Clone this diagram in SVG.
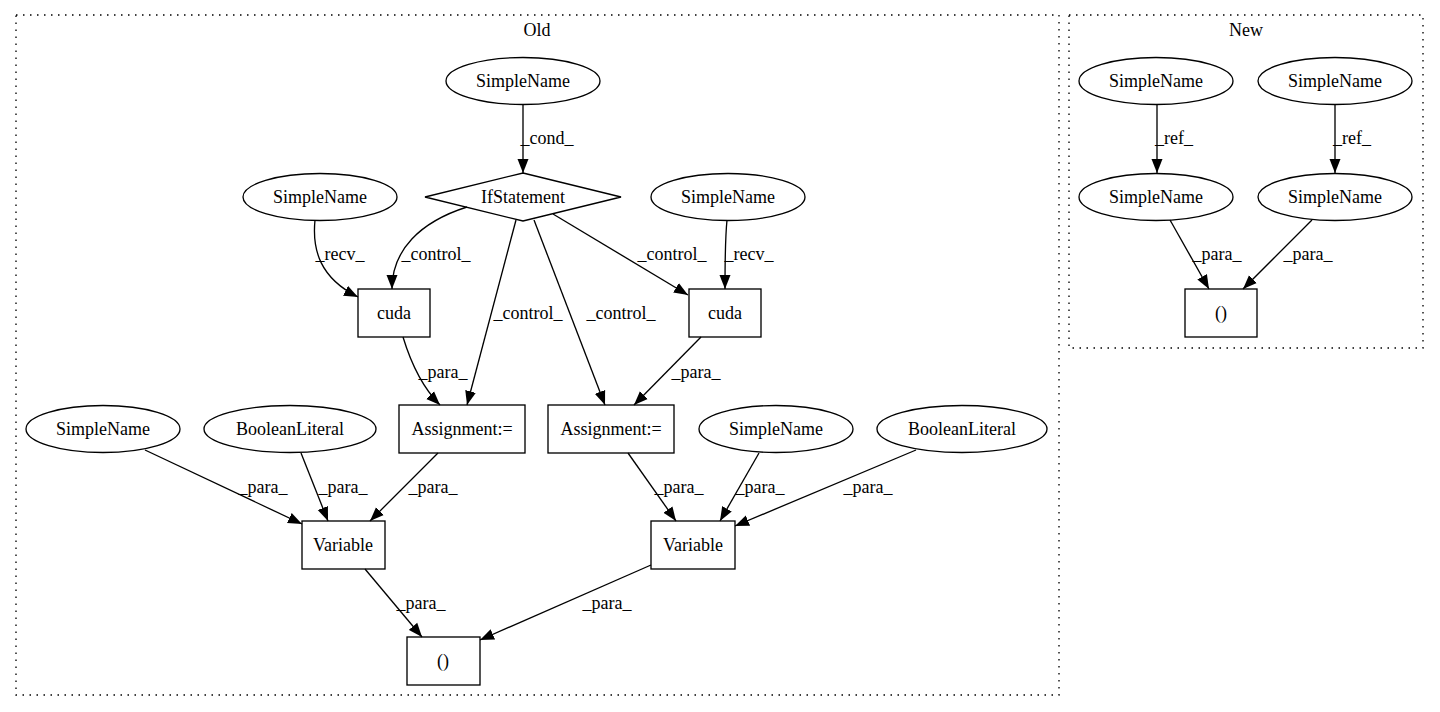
<svg xmlns="http://www.w3.org/2000/svg" width="1440" height="712" viewBox="0 0 1440 712">
<style>
text{font-family:"Liberation Serif","Times New Roman",serif;font-size:18px;fill:#000;text-anchor:middle;dominant-baseline:central}
.n{fill:none;stroke:#000;stroke-width:1.33}
.c{fill:none;stroke:#000;stroke-width:1.33;stroke-dasharray:1.5,5.5}
.e{fill:none;stroke:#000;stroke-width:1.33;marker-end:url(#a)}
</style>
<defs>
<marker id="a" markerUnits="userSpaceOnUse" markerWidth="15" markerHeight="12" refX="14" refY="6" orient="auto">
<path d="M0,0.5 L14,6 L0,11.5 Z" fill="#000"/>
</marker>
</defs>
<rect width="1440" height="712" fill="#fff"/>
<g id="clusters">
<rect class="c" x="16" y="15" width="1043" height="680"/>
<text x="537" y="30">Old</text>
<rect class="c" x="1069" y="15" width="354" height="333"/>
<text x="1246" y="30">New</text>
</g>
<g id="connectors">
<path class="e" d="M523,104 L523,173"/>
<text x="547" y="138">_cond_</text>
<path class="e" d="M315,220 C312,250 320,278 358,297"/>
<text x="340" y="254">_recv_</text>
<path class="e" d="M467,207 C420,222 392,250 392,289"/>
<text x="436" y="254">_control_</text>
<path class="e" d="M516,220 L467,405"/>
<text x="528" y="313">_control_</text>
<path class="e" d="M534,220 L605,405"/>
<text x="621" y="313">_control_</text>
<path class="e" d="M553,214 L688,295"/>
<text x="672" y="254">_control_</text>
<path class="e" d="M727,220 C725,240 725,265 725,289"/>
<text x="749" y="254">_recv_</text>
<path class="e" d="M403,337 C410,360 420,385 440,405"/>
<text x="443" y="372">_para_</text>
<path class="e" d="M701,337 L634,405"/>
<text x="696" y="372">_para_</text>
<path class="e" d="M145,450 L302,524"/>
<text x="263" y="487">_para_</text>
<path class="e" d="M301,453 L328,521"/>
<text x="343" y="487">_para_</text>
<path class="e" d="M438,453 L370,521"/>
<text x="433" y="487">_para_</text>
<path class="e" d="M628,453 L676,521"/>
<text x="679" y="487">_para_</text>
<path class="e" d="M759,453 L720,521"/>
<text x="760" y="487">_para_</text>
<path class="e" d="M916,450 L735,526"/>
<text x="868" y="487">_para_</text>
<path class="e" d="M365,569 L422,637"/>
<text x="421" y="603">_para_</text>
<path class="e" d="M651,565 L480,640"/>
<text x="607" y="603">_para_</text>
<path class="e" d="M1157,104 L1157,173"/>
<text x="1174" y="138">_ref_</text>
<path class="e" d="M1335,104 L1335,173"/>
<text x="1352" y="138">_ref_</text>
<path class="e" d="M1170,220 L1209,289"/>
<text x="1217" y="254">_para_</text>
<path class="e" d="M1312,220 L1243,289"/>
<text x="1308" y="254">_para_</text>
</g>
<g id="old_simplename_cond"><ellipse class="n" cx="523" cy="81" rx="77" ry="23.5"/><text x="523" y="81">SimpleName</text></g>
<g id="old_ifstatement"><polygon class="n" points="523,173 621,197 523,221 425,197"/><text x="523" y="197">IfStatement</text></g>
<g id="old_simplename_recv1"><ellipse class="n" cx="320" cy="197" rx="77" ry="23.5"/><text x="320" y="197">SimpleName</text></g>
<g id="old_simplename_recv2"><ellipse class="n" cx="728" cy="197" rx="77" ry="23.5"/><text x="728" y="197">SimpleName</text></g>
<g id="old_cuda1"><rect class="n" x="358" y="289" width="72" height="48"/><text x="394" y="313">cuda</text></g>
<g id="old_cuda2"><rect class="n" x="689" y="289" width="72" height="48"/><text x="725" y="313">cuda</text></g>
<g id="old_assign1"><rect class="n" x="399" y="405" width="126" height="48"/><text x="462" y="429">Assignment:=</text></g>
<g id="old_assign2"><rect class="n" x="548" y="405" width="126" height="48"/><text x="611" y="429">Assignment:=</text></g>
<g id="old_simplename_p1"><ellipse class="n" cx="103" cy="429" rx="77" ry="23.5"/><text x="103" y="429">SimpleName</text></g>
<g id="old_boolean1"><ellipse class="n" cx="290" cy="429" rx="86" ry="23.5"/><text x="290" y="429">BooleanLiteral</text></g>
<g id="old_simplename_p2"><ellipse class="n" cx="776" cy="429" rx="77" ry="23.5"/><text x="776" y="429">SimpleName</text></g>
<g id="old_boolean2"><ellipse class="n" cx="962" cy="429" rx="85" ry="23.5"/><text x="962" y="429">BooleanLiteral</text></g>
<g id="old_variable1"><rect class="n" x="302" y="521" width="83" height="48"/><text x="343" y="545">Variable</text></g>
<g id="old_variable2"><rect class="n" x="651" y="521" width="84" height="48"/><text x="693" y="545">Variable</text></g>
<g id="old_tuple"><rect class="n" x="407" y="637" width="73" height="48"/><text x="443" y="661">()</text></g>
<g id="new_simplename_a1"><ellipse class="n" cx="1156" cy="81" rx="77" ry="23.5"/><text x="1156" y="81">SimpleName</text></g>
<g id="new_simplename_b1"><ellipse class="n" cx="1335" cy="81" rx="77" ry="23.5"/><text x="1335" y="81">SimpleName</text></g>
<g id="new_simplename_a2"><ellipse class="n" cx="1156" cy="197" rx="77" ry="23.5"/><text x="1156" y="197">SimpleName</text></g>
<g id="new_simplename_b2"><ellipse class="n" cx="1335" cy="197" rx="77" ry="23.5"/><text x="1335" y="197">SimpleName</text></g>
<g id="new_tuple"><rect class="n" x="1185" y="289" width="72" height="48"/><text x="1221" y="313">()</text></g>
</svg>
